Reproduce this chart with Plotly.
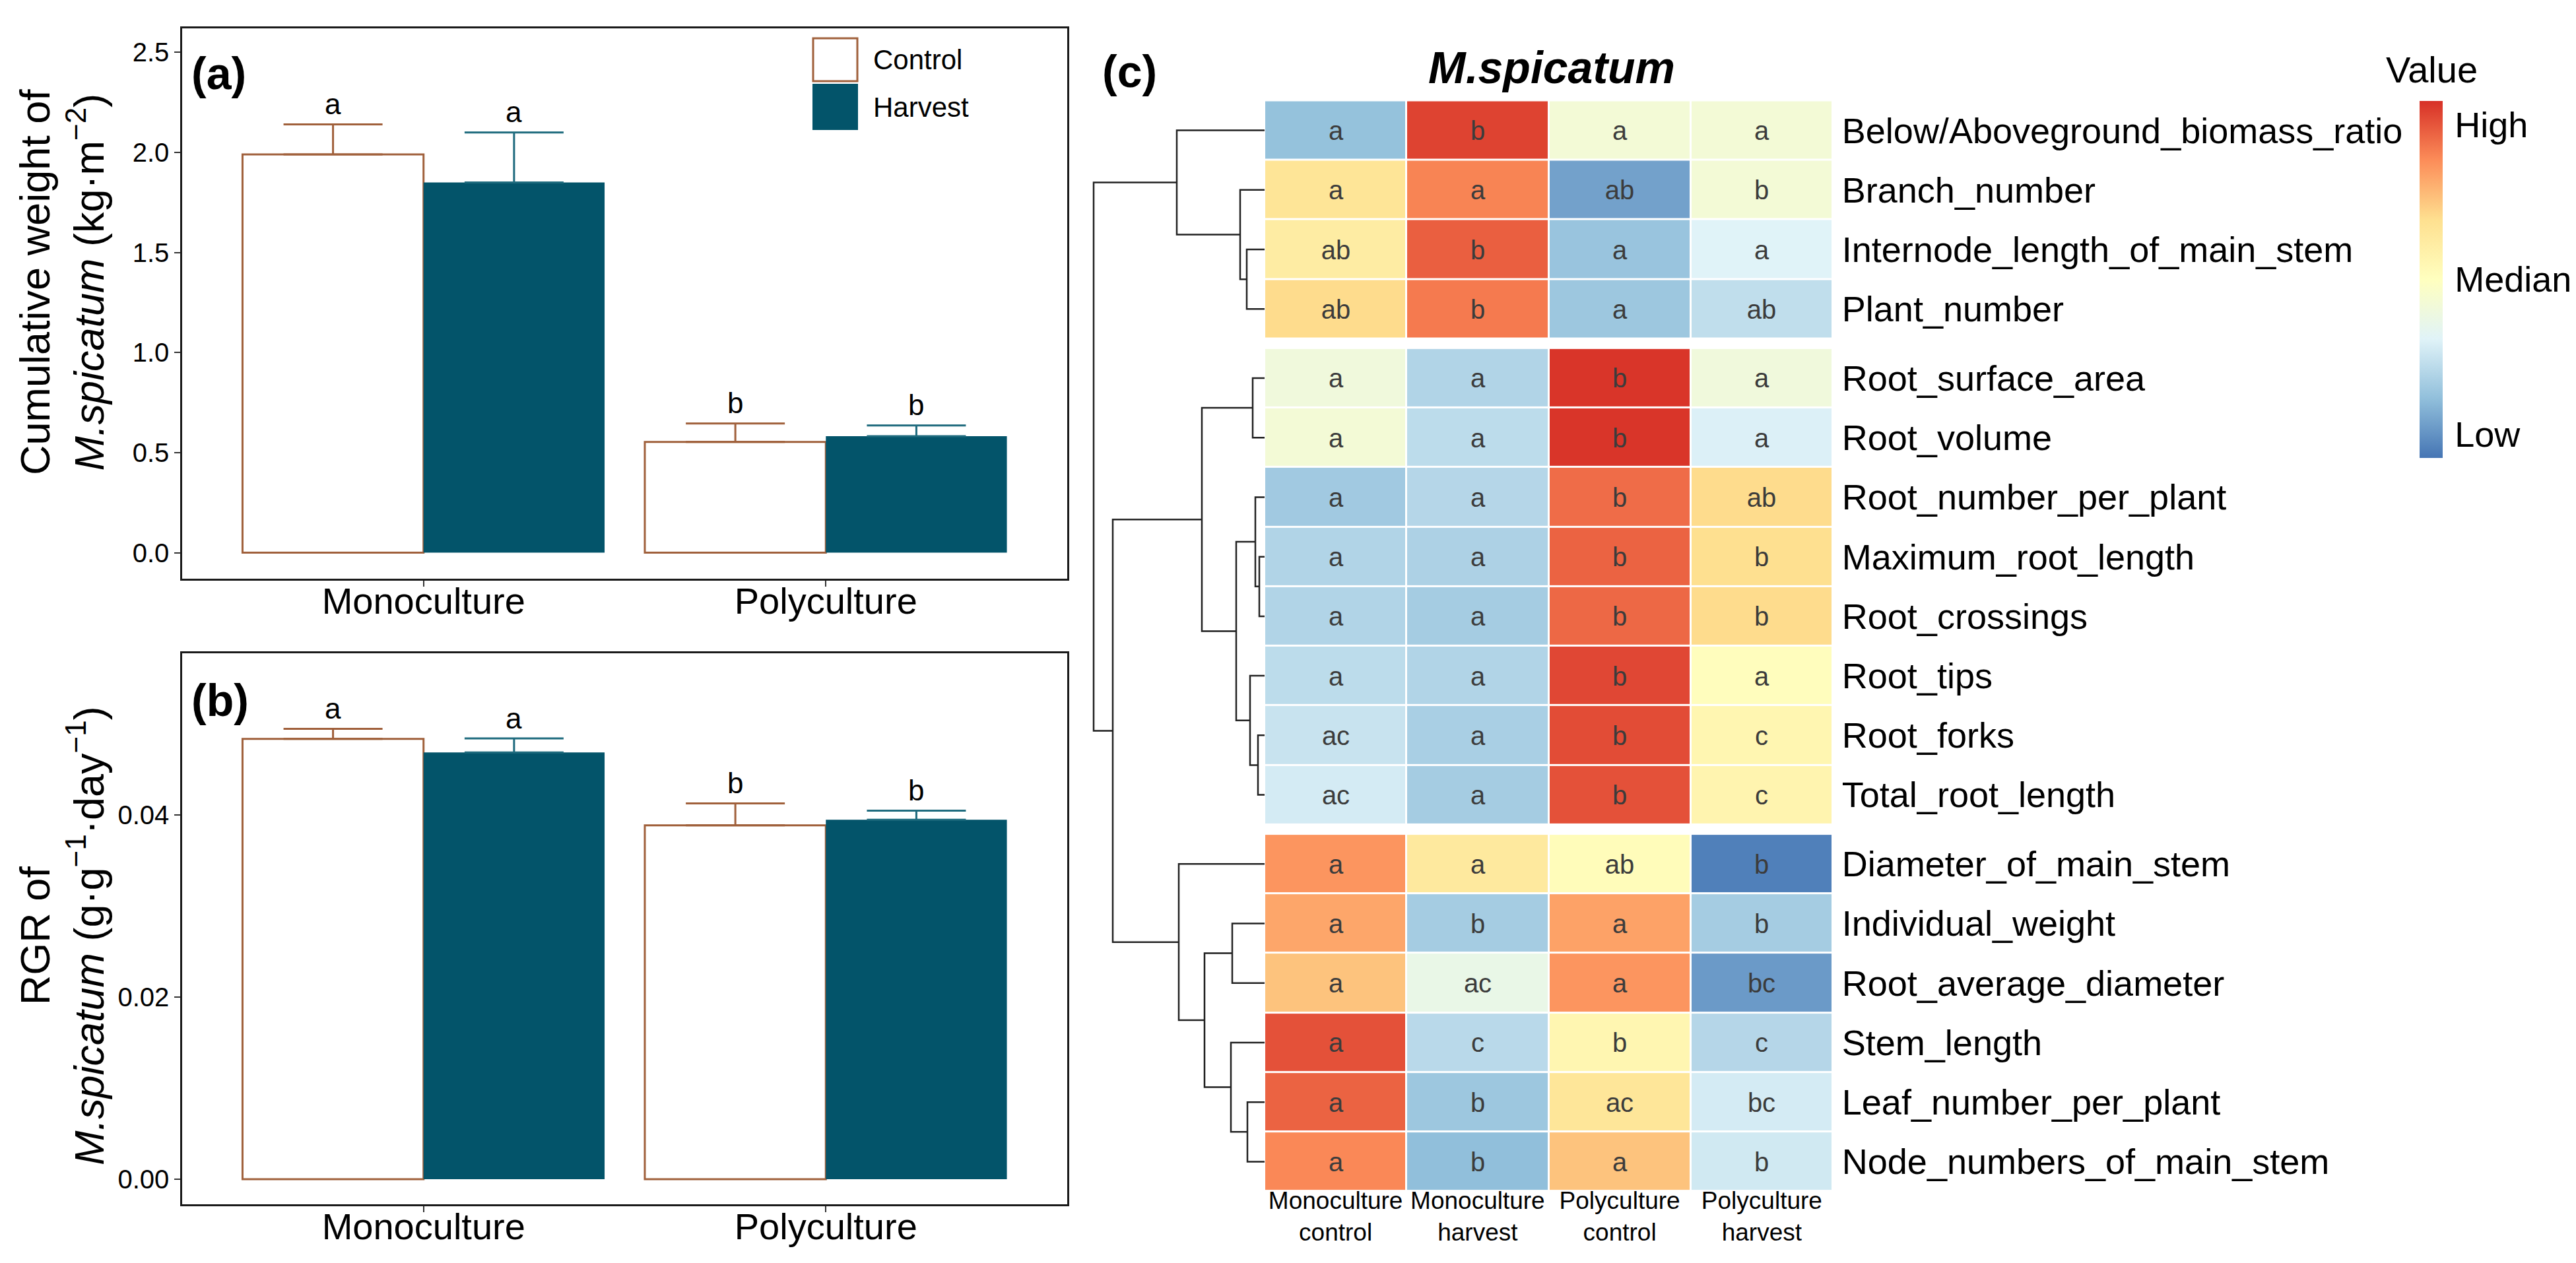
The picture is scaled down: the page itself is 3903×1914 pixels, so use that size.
import plotly.graph_objects as go

W, H = 3903, 1914
FONT = "Liberation Sans, Arial, sans-serif"

# ---------------- Data: bar panels ----------------
systems = ["Monoculture", "Polyculture"]
treatments = ["Control", "Harvest"]

weight_control = [1.99, 0.553]
weight_control_se = [0.15, 0.093]
weight_harvest = [1.85, 0.582]
weight_harvest_se = [0.25, 0.054]
weight_letters_control = ["a", "b"]
weight_letters_harvest = ["a", "b"]

rgr_control = [0.0484, 0.0389]
rgr_control_se = [0.0011, 0.0024]
rgr_harvest = [0.0469, 0.0395]
rgr_harvest_se = [0.00154, 0.0010]
rgr_letters_control = ["a", "b"]
rgr_letters_harvest = ["a", "b"]

weight_ticks = [0.0, 0.5, 1.0, 1.5, 2.0, 2.5]
rgr_ticks = [0.00, 0.02, 0.04]

# ---------------- Data: heatmap ----------------
heat_columns = ["Monoculture<br>control", "Monoculture<br>harvest",
                "Polyculture<br>control", "Polyculture<br>harvest"]
traits = [
    "Below/Aboveground_biomass_ratio", "Branch_number",
    "Internode_length_of_main_stem", "Plant_number",
    "Root_surface_area", "Root_volume", "Root_number_per_plant",
    "Maximum_root_length", "Root_crossings", "Root_tips", "Root_forks",
    "Total_root_length",
    "Diameter_of_main_stem", "Individual_weight", "Root_average_diameter",
    "Stem_length", "Leaf_number_per_plant", "Node_numbers_of_main_stem",
]
cluster_sizes = [4, 8, 6]
heat_values = [
    [-1.95, 2.8, -0.4, -0.4],
    [0.85, 2.1, -2.4, -0.4],
    [0.6, 2.5, -1.9, -1.0],
    [1.05, 2.2, -1.85, -1.4],
    [-0.5, -1.6, 2.95, -0.5],
    [-0.4, -1.45, 2.95, -1.05],
    [-1.8, -1.55, 2.35, 1.05],
    [-1.6, -1.65, 2.45, 1.0],
    [-1.6, -1.75, 2.4, 1.05],
    [-1.45, -1.6, 2.75, 0.05],
    [-1.3, -1.7, 2.7, 0.3],
    [-1.15, -1.75, 2.65, 0.35],
    [1.9, 0.7, 0.1, -2.85],
    [1.7, -1.75, 1.75, -1.75],
    [1.35, -0.7, 1.9, -2.5],
    [2.65, -1.5, 0.3, -1.55],
    [2.45, -1.85, 0.8, -1.15],
    [2.05, -2.0, 1.35, -1.2],
]
heat_letters = [
    ["a", "b", "a", "a"],
    ["a", "a", "ab", "b"],
    ["ab", "b", "a", "a"],
    ["ab", "b", "a", "ab"],
    ["a", "a", "b", "a"],
    ["a", "a", "b", "a"],
    ["a", "a", "b", "ab"],
    ["a", "a", "b", "b"],
    ["a", "a", "b", "b"],
    ["a", "a", "b", "a"],
    ["ac", "a", "b", "c"],
    ["ac", "a", "b", "c"],
    ["a", "a", "ab", "b"],
    ["a", "b", "a", "b"],
    ["a", "ac", "a", "bc"],
    ["a", "c", "b", "c"],
    ["a", "b", "ac", "bc"],
    ["a", "b", "a", "b"],
]
# row dendrogram: (child_a, child_b, height); leaves 0..17, merges numbered from 18
row_merges = [
    (2, 3, 0.27), (1, 18, 0.37), (0, 19, 1.33),
    (4, 5, 0.18), (7, 8, 0.08), (6, 22, 0.14), (10, 11, 0.10),
    (9, 24, 0.22), (23, 25, 0.43), (21, 26, 0.95),
    (16, 17, 0.26), (15, 28, 0.51), (13, 14, 0.49), (30, 29, 0.91),
    (12, 31, 1.30), (27, 32, 2.30), (20, 33, 2.59),
]
scale_min, scale_max = -3, 3
scale_ticks = [2.6, 0, -2.6]
scale_labels = ["High", "Median", "Low"]

# ---------------- Styles ----------------
C_CTRL_LINE = "#A0603B"
C_HARV = "#03546A"
C_HARV_ERR = "#1F6B7E"
RDYLBU_R = ["#4575B4", "#91BFDB", "#E0F3F8", "#FFFFBF", "#FEE090", "#FC8D59", "#D73027"]
BARGAP = 0.1
CLUSTER_GAP = 0.16


def px_x(p):
    return p / W


def px_y(p):
    return 1 - p / H


fig = go.Figure()

# ---------------- Bars ----------------
xpos = [i + 1 for i in range(len(systems))]
half = (1 - BARGAP) / 4
panels = [
    ("x", "y", weight_control, weight_control_se, weight_harvest, weight_harvest_se,
     weight_letters_control, weight_letters_harvest),
    ("x2", "y2", rgr_control, rgr_control_se, rgr_harvest, rgr_harvest_se,
     rgr_letters_control, rgr_letters_harvest),
]
annotations = []
for xa, ya, cv, cse, hv, hse, cl, hl in panels:
    fig.add_trace(go.Bar(
        x=xpos, y=cv, name=treatments[0], xaxis=xa, yaxis=ya, showlegend=False,
        marker=dict(color="white", line=dict(color=C_CTRL_LINE, width=3)),
        error_y=dict(type="data", symmetric=False, array=cse, arrayminus=[0] * len(cse),
                     color=C_CTRL_LINE, thickness=3, width=75),
    ))
    fig.add_trace(go.Bar(
        x=xpos, y=hv, name=treatments[1], xaxis=xa, yaxis=ya, showlegend=False,
        marker=dict(color=C_HARV, line=dict(color=C_HARV, width=0)),
        error_y=dict(type="data", symmetric=False, array=hse, arrayminus=[0] * len(hse),
                     color=C_HARV_ERR, thickness=3, width=75),
    ))
    for i, xp in enumerate(xpos):
        for off, vals, ses, lets in [(-half, cv, cse, cl), (half, hv, hse, hl)]:
            annotations.append(dict(
                x=xp + off, y=vals[i] + ses[i], xref=xa, yref=ya, text=lets[i],
                showarrow=False, yshift=31, xanchor="center", yanchor="middle",
                font=dict(size=44, color="black", family=FONT)))

fig.update_layout(barmode="group", bargap=BARGAP, bargroupgap=0)

# ---------------- Heatmap ----------------
row_pos = []
start = 0
for ci, n in enumerate(cluster_sizes):
    ys = [start + k + ci * CLUSTER_GAP for k in range(n)]
    row_pos.extend(ys)
    fig.add_trace(go.Heatmap(
        z=heat_values[start:start + n], x=list(range(len(heat_columns))), y=ys,
        text=heat_letters[start:start + n], texttemplate="%{text}",
        textfont=dict(size=40, color="#3C3C3C", family=FONT),
        coloraxis="coloraxis", xgap=3, ygap=3, xaxis="x3", yaxis="y3",
        hoverinfo="skip",
    ))
    start += n

# dendrogram
node_y = {i: row_pos[i] for i in range(len(traits))}
node_h = {i: 0.0 for i in range(len(traits))}
dx, dy = [], []
for k, (a, b, h) in enumerate(row_merges):
    nid = len(traits) + k
    ya_, yb_ = node_y[a], node_y[b]
    dx += [node_h[a], h, h, node_h[b], None]
    dy += [ya_, ya_, yb_, yb_, None]
    node_y[nid] = (ya_ + yb_) / 2
    node_h[nid] = h
fig.add_trace(go.Scatter(x=dx, y=dy, mode="lines", xaxis="x4", yaxis="y3",
                         line=dict(color="#222222", width=2.5), showlegend=False,
                         hoverinfo="skip"))

total_rows = len(traits) + (len(cluster_sizes) - 1) * CLUSTER_GAP

axis_common = dict(showgrid=False, zeroline=False, showline=True, linecolor="#1a1a1a",
                   linewidth=2.5, mirror=True, ticks="outside", ticklen=9, tickwidth=2,
                   tickcolor="#333333")

fig.update_layout(
    width=W, height=H, margin=dict(l=0, r=0, t=0, b=0),
    paper_bgcolor="white", plot_bgcolor="white",
    font=dict(family=FONT, color="black"),
    xaxis=dict(domain=[px_x(268), px_x(1609)], anchor="y", range=[0.4, 2.6],
               tickvals=xpos, ticktext=systems, tickfont=dict(size=56, color="black"),
               ticklabelstandoff=-26, **axis_common),
    yaxis=dict(domain=[px_y(869), px_y(35)], anchor="x", range=[-0.13, 2.62],
               tickvals=weight_ticks, tickformat=".1f",
               tickfont=dict(size=40, color="black"), **axis_common),
    xaxis2=dict(domain=[px_x(268), px_x(1609)], anchor="y2", range=[0.4, 2.6],
                tickvals=xpos, ticktext=systems, tickfont=dict(size=56, color="black"),
                ticklabelstandoff=-26, **axis_common),
    yaxis2=dict(domain=[px_y(1817), px_y(982)], anchor="x2", range=[-0.00275, 0.0578],
                tickvals=rgr_ticks, tickformat=".2f",
                tickfont=dict(size=40, color="black"), **axis_common),
    xaxis3=dict(domain=[px_x(1908), px_x(2769)], anchor="y3", range=[-0.5, 3.5],
                tickvals=list(range(len(heat_columns))), ticktext=heat_columns,
                tickfont=dict(size=37, color="black"), showgrid=False, zeroline=False,
                showline=False, ticks="", ticklabelstandoff=-12),
    yaxis3=dict(domain=[px_y(1797.5), px_y(144.5)], anchor="x3", side="right",
                range=[total_rows - 0.5, -0.5], tickvals=row_pos, ticktext=traits,
                tickfont=dict(size=54, color="black"), showgrid=False, zeroline=False,
                showline=False, ticks="outside", ticklen=2, tickcolor="rgba(0,0,0,0)"),
    xaxis4=dict(domain=[px_x(1630), px_x(1908)], anchor="y3", range=[2.78, 0],
                visible=False, showgrid=False, zeroline=False),
    coloraxis=dict(
        cmin=scale_min, cmax=scale_max,
        colorscale=[[i / (len(RDYLBU_R) - 1), c] for i, c in enumerate(RDYLBU_R)],
        colorbar=dict(x=px_x(3658), xanchor="left", xpad=0, y=px_y(145), yanchor="top",
                      ypad=0, len=541, lenmode="pixels", thickness=35,
                      thicknessmode="pixels", outlinewidth=0, tickvals=scale_ticks,
                      ticktext=scale_labels, ticks="outside", ticklen=8,
                      tickcolor="rgba(0,0,0,0)",
                      tickfont=dict(size=54, color="black", family=FONT)),
    ),
)

# ---------------- Legend (drawn) ----------------
shapes = [
    dict(type="rect", xref="paper", yref="paper", x0=px_x(1224), x1=px_x(1291),
         y0=px_y(115), y1=px_y(50), fillcolor="white",
         line=dict(color=C_CTRL_LINE, width=3)),
    dict(type="rect", xref="paper", yref="paper", x0=px_x(1223), x1=px_x(1292),
         y0=px_y(189), y1=px_y(119), fillcolor=C_HARV, line=dict(width=0)),
]
annotations += [
    dict(x=px_x(1313), y=px_y(82), xref="paper", yref="paper", text=treatments[0],
         showarrow=False, xanchor="left", yanchor="middle", font=dict(size=42)),
    dict(x=px_x(1313), y=px_y(154), xref="paper", yref="paper", text=treatments[1],
         showarrow=False, xanchor="left", yanchor="middle", font=dict(size=42)),
    # panel tags
    dict(x=px_x(280), y=px_y(103), xref="paper", yref="paper", text="<b>(a)</b>",
         showarrow=False, xanchor="left", yanchor="middle", font=dict(size=68)),
    dict(x=px_x(280), y=px_y(1053), xref="paper", yref="paper", text="<b>(b)</b>",
         showarrow=False, xanchor="left", yanchor="middle", font=dict(size=68)),
    dict(x=px_x(1660), y=px_y(100), xref="paper", yref="paper", text="<b>(c)</b>",
         showarrow=False, xanchor="left", yanchor="middle", font=dict(size=68)),
    # heatmap title
    dict(x=px_x(2343), y=px_y(94), xref="paper", yref="paper",
         text="<b><i>M.spicatum</i></b>", showarrow=False, xanchor="center",
         yanchor="middle", font=dict(size=68)),
    # colorbar title
    dict(x=px_x(3676), y=px_y(97), xref="paper", yref="paper", text="Value",
         showarrow=False, xanchor="center", yanchor="middle", font=dict(size=56)),
    # y-axis titles
    dict(x=px_x(86), y=px_y(420), xref="paper", yref="paper", textangle=-90,
         text="Cumulative weight of<br><i>M.spicatum</i> (kg·m<sup>−2</sup>)",
         showarrow=False, xanchor="center", yanchor="middle", font=dict(size=63)),
    dict(x=px_x(86), y=px_y(1410), xref="paper", yref="paper", textangle=-90,
         text="RGR of<br><i>M.spicatum</i> (g·g<sup>−1</sup>·day<sup>−1</sup>)",
         showarrow=False, xanchor="center", yanchor="middle", font=dict(size=63)),
]
fig.update_layout(shapes=shapes, annotations=annotations)

fig.write_html("out.html")
